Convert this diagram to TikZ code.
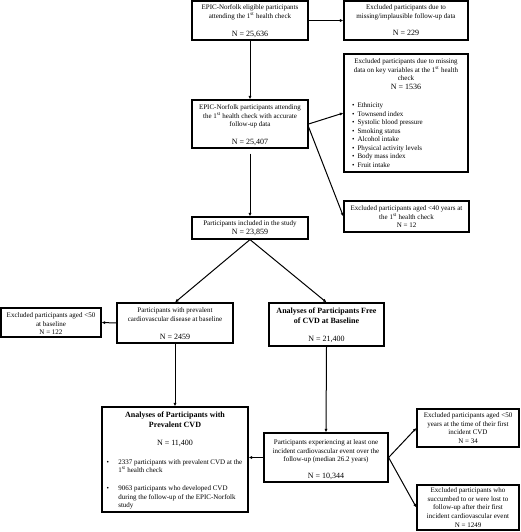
\documentclass[tikz,border=0pt]{standalone}
\usepackage{fontspec}
\setmainfont{Liberation Serif}
\usetikzlibrary{arrows.meta}
\newcommand\smtxt{\fontsize{7}{8.5}\selectfont}
\newcommand\ntxt{\fontsize{8}{8.5}\selectfont}
\newcommand\bdtxt{\fontsize{8}{9.5}\selectfont\bfseries}
\newcommand\bxt[4]{\begin{minipage}[c][#2][t]{#1}\vspace*{#3}\centering #4\end{minipage}}
\newcommand\bul[2]{\hspace*{#1}\makebox[#2][l]{\textbullet}}
\newcommand\fst{1\textsuperscript{st}}
\tikzset{
  box/.style={draw, line width=1.2pt, inner sep=0pt},
  arr/.style={-{Latex[length=3.6pt,width=3.2pt]}, line width=1pt}
}
\begin{document}
\begin{tikzpicture}[x=1pt,y=-1pt]
\useasboundingbox (0,0) rectangle (520,532);

\node[box] (A) at (250,20.5) {\bxt{116pt}{39pt}{3.7pt}{\smtxt EPIC-Norfolk eligible participants\\attending the \fst{} health check\par\vspace{9.4pt}{\ntxt N = 25,636\par}}};

\node[box] (B) at (406,20.5) {\bxt{124pt}{39pt}{3.7pt}{\smtxt Excluded participants due to\\missing/implausible follow-up data\par\vspace{9.4pt}{\ntxt N = 229\par}}};

\node[box] (C) at (406,113) {\bxt{124pt}{118pt}{4.7pt}{{\smtxt Excluded participants due to missing\\data on key variables at the \fst{} health\\check\par}\vspace{0.9pt}{\ntxt N = 1536\par}\vspace{9.1pt}\raggedright\smtxt
\bul{8pt}{5.5pt}Ethnicity\\
\bul{8pt}{5.5pt}Townsend index\\
\bul{8pt}{5.5pt}Systolic blood pressure\\
\bul{8pt}{5.5pt}Smoking status\\
\bul{8pt}{5.5pt}Alcohol intake\\
\bul{8pt}{5.5pt}Physical activity levels\\
\bul{8pt}{5.5pt}Body mass index\\
\bul{8pt}{5.5pt}Fruit intake\par}};

\node[box] (D) at (250,124) {\bxt{116pt}{48pt}{4.7pt}{\smtxt EPIC-Norfolk participants attending\\the \fst{} health check with accurate\\follow-up data\par\vspace{9.4pt}{\ntxt N = 25,407\par}}};

\node[box] (E) at (406.5,216.5) {\bxt{125pt}{31pt}{4.7pt}{\smtxt Excluded participants aged <40 years at\\the \fst{} health check\\N = 12\par}};

\node[box] (F) at (250,228) {\bxt{116pt}{22pt}{3.7pt}{\smtxt Participants included in the study\par\vspace{0.9pt}{\ntxt N = 23,859\par}}};

\node[box] (G) at (175,323) {\bxt{116pt}{40pt}{4.7pt}{\smtxt Participants with prevalent\\cardiovascular disease at baseline\par\vspace{9.9pt}{\ntxt N = 2459\par}}};

\node[box] (H) at (326.5,324.5) {\bxt{115pt}{43pt}{5.3pt}{{\bdtxt Analyses of Participants Free\\of CVD at Baseline\par}\vspace{9.5pt}{\ntxt N = 21,400\par}}};

\node[box] (I) at (51,322.5) {\bxt{100pt}{29pt}{4.7pt}{\smtxt Excluded participants aged <50\\at baseline\\N = 122\par}};

\node[box] (J) at (175,459.5) {\bxt{146pt}{105pt}{5.3pt}{{\bdtxt Analyses of Participants with\\Prevalent CVD\par}\vspace{9.5pt}{\ntxt N = 11,400\par}\vspace{10.1pt}\raggedright\smtxt
\bul{4.5pt}{11.8pt}2337 participants with prevalent CVD at the\\
\hspace*{16.3pt}\fst{} health check\par\vspace{9.5pt}
\bul{4.5pt}{11.8pt}9063 participants who developed CVD\\
\hspace*{16.3pt}during the follow-up of the EPIC-Norfolk\\
\hspace*{16.3pt}study\par}};

\node[box] (K) at (326,457.5) {\bxt{124pt}{49pt}{6.7pt}{\smtxt Participants experiencing at least one\\incident cardiovascular event over the\\follow-up (median 26.2 years)\par\vspace{8.9pt}{\ntxt N = 10,344\par}}};

\node[box] (L) at (468,428) {\bxt{102pt}{38pt}{3.7pt}{\smtxt Excluded participants aged <50\\years at the time of their first\\incident CVD\\N = 34\par}};

\node[box] (M) at (468,507.5) {\bxt{102pt}{45pt}{2.7pt}{\fontsize{7}{8.7}\selectfont Excluded participants who\\succumbed to or were lost to\\follow-up after their first\\incident cardiovascular event\\N = 1249\par}};

\draw[arr] (A.east) -- (B.west);
\draw[arr] (A.south) -- (D.north);
\draw[arr] (D.east) -- (C.west);
\draw[arr] ([yshift=-3pt]D.east) -- (E.west);
\draw[arr] ([yshift=-5pt]D.south) -- (F.north);
\draw[arr] (F.south) -- (G.north);
\draw[arr] (F.south) -- (H.north);
\draw[arr] (G.west) -- (I.east);
\draw[arr] (G.south) -- (J.north);
\draw[arr] (H.south) -- (K.north);
\draw[arr] (K.west) -- (K.west -| J.east);
\draw[arr] (K.east) -- (L.west);
\draw[arr] (K.east) -- (M.west);
\end{tikzpicture}
\end{document}
